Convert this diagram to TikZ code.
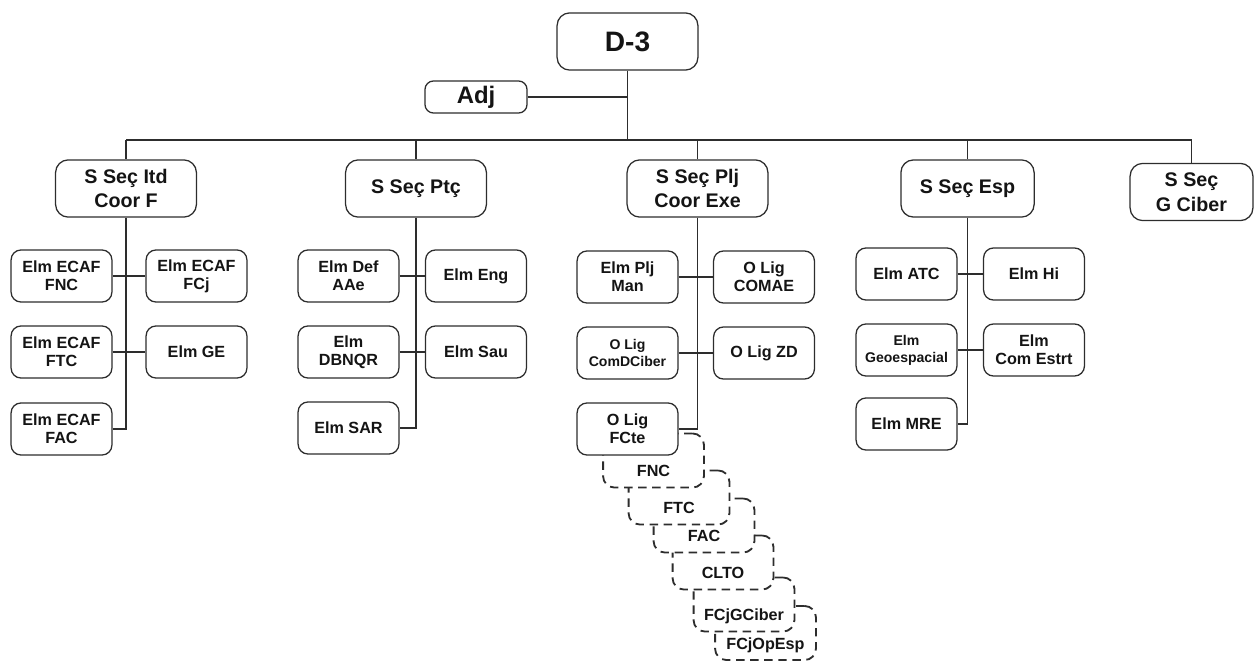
\documentclass[tikz,border=0pt]{standalone}
\usepackage{fontspec}
\setmainfont{Liberation Sans}
\definecolor{LineGray}{RGB}{45,45,45}
\definecolor{TextDark}{RGB}{20,20,20}

\begin{document}
\begin{tikzpicture}[x=0.025cm,y=-0.025cm,
	box/.style={draw=LineGray, line width=0.9pt, rounded corners=7pt, fill=white, align=center, text=TextDark,
		font=\bfseries\fontsize{11.5}{13}\selectfont, minimum width=2.52cm, minimum height=1.3cm, inner sep=1pt},
	head/.style={box, rounded corners=9pt, font=\bfseries\fontsize{14}{17.5}\selectfont, minimum width=3.52cm, minimum height=1.43cm},
	dbox/.style={box, line width=1.3pt, rounded corners=8pt, dash pattern=on 6pt off 4pt, minimum width=2.52cm, minimum height=1.35cm,
		text height=0.8cm, text depth=0pt, font=\bfseries\fontsize{11.5}{13}\selectfont},
	link/.style={draw=LineGray, line width=1pt}]

\useasboundingbox (0,0) rectangle (1254,663);

	% top of the chart
	\node[head, font=\bfseries\fontsize{20}{24}\selectfont] (d3) at (627.5,41.5) {D-3};
	\node[box, font=\bfseries\fontsize{17}{20}\selectfont, minimum width=2.55cm, minimum height=0.8cm, rounded corners=6pt] (adj) at (476,97) {Adj};
	\coordinate (bus) at (0,140);

	\node[head] (itd) at (126,188.5) {S Seç Itd\\Coor F};
	\node[head] (ptc) at (416,188.5) {S Seç Ptç};
	\node[head] (plj) at (697.5,188.5) {S Seç Plj\\Coor Exe};
	\node[head, minimum width=3.33cm] (esp) at (967.5,188.5) {S Seç Esp};
	\node[head, minimum width=3.07cm] (ciber) at (1191.5,192) {S Seç\\G Ciber};

	\draw[link] (d3) -- (d3 |- bus);
	\draw[link] (adj) -- (adj -| d3);
	\draw[link] (itd |- bus) -- (ciber |- bus);
	\foreach \s in {itd,ptc,plj,esp,ciber}
		\draw[link] (\s |- bus) -- (\s);

	% Itd
	\node[box] (ecfnc) at (61.5,276) {Elm ECAF\\FNC};
	\node[box] (ecfcj) at (196.5,276) {Elm ECAF\\FCj};
	\node[box] (ecftc) at (61.5,352) {Elm ECAF\\FTC};
	\node[box] (ge) at (196.5,352) {Elm GE};
	\node[box] (ecfac) at (61.5,429) {Elm ECAF\\FAC};
	\draw[link] (itd) -- (itd |- ecfac) -- (ecfac);
	\draw[link] (ecfnc) -- (ecfcj);
	\draw[link] (ecftc) -- (ge);

	% Ptc
	\node[box] (defaae) at (348.5,276) {Elm Def\\AAe};
	\node[box] (eng) at (476,276) {Elm Eng};
	\node[box] (dbnqr) at (348.5,352) {Elm\\DBNQR};
	\node[box] (sau) at (476,352) {Elm Sau};
	\node[box] (sar) at (348.5,428) {Elm SAR};
	\draw[link] (ptc) -- (ptc |- sar) -- (sar);
	\draw[link] (defaae) -- (eng);
	\draw[link] (dbnqr) -- (sau);

	% FCte chain, back to front
	\node[dbox] (opesp) at (765.5,633) {FCjOpEsp};
	\node[dbox] (gciber) at (744,604.5) {FCjGCiber};
	\node[dbox] (clto) at (723,562.5) {CLTO};
	\node[dbox] (fac) at (704,525.5) {FAC};
	\node[dbox] (ftc) at (679,497.5) {FTC};
	\node[dbox] (fnc) at (653.5,460.5) {FNC};

	% Plj
	\node[box] (pljman) at (627.5,277) {Elm Plj\\Man};
	\node[box] (comae) at (764,277) {O Lig\\COMAE};
	\node[box, font=\bfseries\fontsize{10}{12}\selectfont] (comdciber) at (627.5,353) {O Lig\\ComDCiber};
	\node[box] (zd) at (764,353) {O Lig ZD};
	\node[box] (fcte) at (627.5,429) {O Lig\\FCte};
	\draw[link] (plj) -- (plj |- fcte) -- (fcte);
	\draw[link] (pljman) -- (comae);
	\draw[link] (comdciber) -- (zd);

	% Esp
	\node[box] (atc) at (906.5,274) {Elm ATC};
	\node[box] (hi) at (1034,274) {Elm Hi};
	\node[box, font=\bfseries\fontsize{10}{12}\selectfont] (geo) at (906.5,350) {Elm\\Geoespacial};
	\node[box] (estrt) at (1034,350) {Elm\\Com Estrt};
	\node[box] (mre) at (906.5,424) {Elm MRE};
	\draw[link] (esp) -- (esp |- mre) -- (mre);
	\draw[link] (atc) -- (hi);
	\draw[link] (geo) -- (estrt);
\end{tikzpicture}
\end{document}
